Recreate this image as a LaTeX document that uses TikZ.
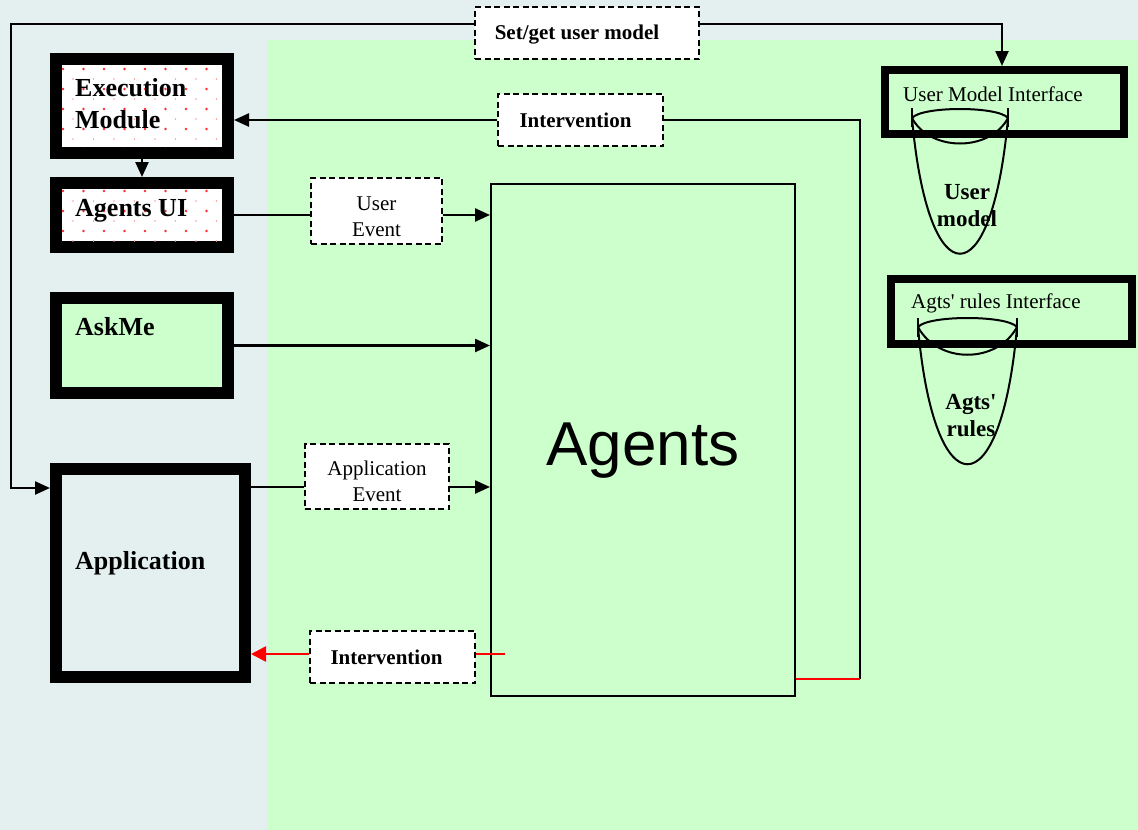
\documentclass[tikz,border=0pt]{standalone}
\usepackage{fontspec}
\setmainfont{Liberation Serif}
\newfontfamily\agentsfont{Liberation Sans}
\usetikzlibrary{arrows.meta,calc}
\definecolor{paleblue}{HTML}{E4F0F0}
\definecolor{palegreen}{HTML}{CCFFCC}
\definecolor{dotred}{HTML}{FF2A2A}
\definecolor{dotpink}{HTML}{FF9A9A}

\begin{document}
\begin{tikzpicture}[x=1pt,y=-1pt,
  module/.style={draw=black, line width=12pt, inner sep=0pt},
  iface/.style={draw=black, line width=8pt, fill=palegreen, inner sep=0pt},
  msgbox/.style={draw=black, fill=white, line width=2.5pt, dash pattern=on 6pt off 3.5pt,
                 inner sep=0pt, align=center, font=\fontsize{21}{26}\selectfont},
  boldmsg/.style={msgbox, font=\fontsize{21}{26}\selectfont\bfseries},
  title/.style={font=\fontsize{26}{32}\selectfont\bfseries, align=left, inner sep=0pt, anchor=west},
  ifacetitle/.style={font=\fontsize{21}{26}\selectfont, inner sep=0pt, anchor=west},
  storetitle/.style={font=\fontsize{23}{27}\selectfont\bfseries, align=center, inner sep=0pt},
  conn/.style={line width=2.4pt, draw=black},
  arr/.style={conn, -{Triangle[length=15pt,width=13pt]}},
  redconn/.style={line width=2.6pt, draw=red},
  redarr/.style={redconn, -{Triangle[length=15pt,width=15pt]}},
  cone/.style={line width=2pt, draw=black},
]
% backgrounds
\fill[paleblue] (0,0) rectangle (1138,830);
\fill[palegreen] (267,40) rectangle (1138,830);
\useasboundingbox (0,0) rectangle (1138,830);

% modules on the left
\node[module, fill=white, minimum width=172pt, minimum height=94pt] (exec) at (142,106) {};
\node[module, fill=white, minimum width=172pt, minimum height=64pt] (aui) at (142,215) {};
\node[module, fill=palegreen, minimum width=172pt, minimum height=95pt] (askme) at (142,345.5) {};
\node[module, fill=paleblue, minimum width=189pt, minimum height=208pt] (app) at (150.5,573) {};

% dotted fill of the execution module and the agents UI
\begin{scope}
  \clip (62,65) rectangle (222,147);
  \foreach \i in {0,...,8} \foreach \j in {0,...,4} {
    \fill[dotred] ({63+20.5*\i},{69+20*\j}) circle (1.3pt);
    \fill[dotpink] ({73+20.5*\i},{79+20*\j}) circle (0.9pt);
  }
\end{scope}
\begin{scope}
  \clip (62,189) rectangle (222,241);
  \foreach \i in {0,...,8} \foreach \j in {0,...,3} {
    \fill[dotred] ({63+20.5*\i},{191+20*\j}) circle (1.3pt);
    \fill[dotpink] ({73+20.5*\i},{201+20*\j}) circle (0.9pt);
  }
\end{scope}

\node[title] (execlabel) at (75,104) {Execution\\Module};
\node[title] (auilabel) at (75,211) {Agents UI};
\node[title] (asklabel) at (75,327) {AskMe};
\node[title] (applabel) at (75,563) {Application};

% agents block
\node[draw=black, line width=2pt, fill=palegreen, minimum width=304pt, minimum height=512pt,
      inner sep=0pt, font=\agentsfont\fontsize{62}{70}\selectfont] (agents) at (643,440)
      {\rule{0pt}{64pt}Agents};

% interfaces on the right
\node[iface, minimum width=239pt, minimum height=64pt] (umi) at (1004.5,102) {};
\node[ifacetitle] (umilabel) at (903,94) {User Model Interface};
\node[iface, minimum width=241pt, minimum height=65pt] (ari) at (1011.5,311.5) {};
\node[ifacetitle] (arilabel) at (911,303) {Agts\textquotesingle{} rules Interface};

% user model store
\draw[cone] (912,108) -- (912,127);
\draw[cone] (1008,108) -- (1008,127);
\draw[cone] (912,118) .. controls (922,106) and (998,106) .. (1008,118);
\draw[cone] (912,118) .. controls (930,152) and (990,152) .. (1008,118);
\draw[cone] (912,118) .. controls (928,299) and (992,299) .. (1008,118);
\node[storetitle] (umstore) at (967,206) {User\\model};

% agents' rules store
\draw[cone] (918,318) -- (918,337);
\draw[cone] (1017,318) -- (1017,337);
\draw[cone] (918,327) .. controls (928,315) and (1007,315) .. (1017,327);
\draw[cone] (918,327) .. controls (938,364) and (997,364) .. (1017,327);
\draw[cone] (918,327) .. controls (934,510) and (1001,510) .. (1017,327);
\node[storetitle] (arstore) at (971,416) {Agts\textquotesingle\\rules};

% message boxes
\node[boldmsg, minimum width=224pt, minimum height=52pt] (setget) at (587,33) {\rule{0pt}{18pt}Set/get user model\hspace*{20pt}};
\node[boldmsg, minimum width=165pt, minimum height=52pt] (int1) at (580.5,120) {Intervention\hspace*{10pt}};
\node[msgbox, minimum width=131pt, minimum height=66pt] (ue) at (376.5,211) {\rule{0pt}{25pt}User\\Event};
\node[msgbox, minimum width=144pt, minimum height=65pt] (ae) at (377,476.5) {\rule{0pt}{25pt}Application\\Event};
\node[boldmsg, minimum width=165pt, minimum height=52pt] (int2) at (392.5,657) {Intervention\hspace*{12pt}};

% routing points
\coordinate (loopTop) at (11,24);
\coordinate (loopBot) at (11,488);
\coordinate (umTop) at (1002,24);
\coordinate (ivTop) at (860,120);
\coordinate (ivBot) at (860,679);
\coordinate (aeLine) at (300,487);
\coordinate (redStart) at (505,654);

% connectors
\draw[arr] (setget.west |- loopTop) -- (loopTop) -- (loopBot) -- (loopBot -| app.west);
\draw[arr] (setget.east |- loopTop) -- (umTop) -- (umTop |- umi.north);
\draw[arr] (int1.west) -- (int1.west -| exec.east);
\draw[conn] (int1.east) -- (ivTop) -- (ivBot);
\draw[red, line width=1.8pt] (ivBot) -- (ivBot -| agents.east);
\draw[arr] (exec.south) -- (aui.north);
\draw[conn] (aui.east) -- (aui.east -| ue.west);
\draw[arr] (aui.east -| ue.east) -- (aui.east -| agents.west);
\draw[arr] ([xshift=-12pt]askme.east) -- (askme.east -| agents.west);
\draw[conn] (app.east |- aeLine) -- (ae.west |- aeLine);
\draw[arr] (ae.east |- aeLine) -- (agents.west |- aeLine);
\draw[redconn] (redStart) -- (int2.east |- redStart);
\draw[redarr] (int2.west |- redStart) -- (app.east |- redStart);
\end{tikzpicture}
\end{document}
